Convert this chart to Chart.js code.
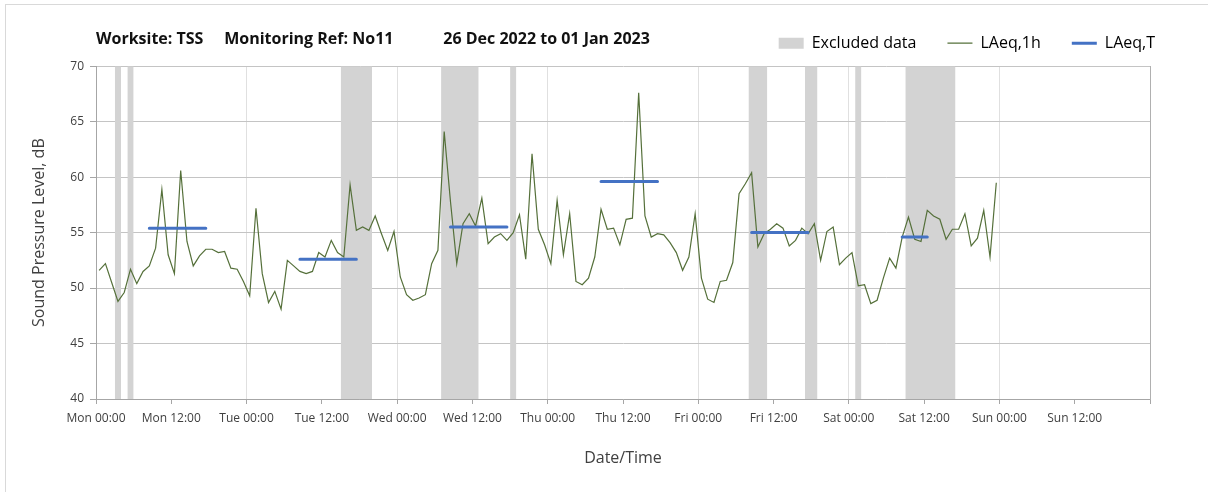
<!DOCTYPE html>
<html>
<head>
<meta charset="utf-8">
<script src="https://cdn.jsdelivr.net/npm/chart.js@4"></script>
<style>
  html, body { margin: 0; padding: 0; background: #fff; overflow: hidden; }
  #frame { position: absolute; left: 5px; top: 4px; width: 1400px; height: 700px; border: 1px solid #d9d9d9; }
  #wrap { position: absolute; left: 0; top: 0; width: 1208px; height: 492px; }
</style>
</head>
<body>
<div id="frame"></div>
<div id="wrap"><canvas id="noiseChart" width="1208" height="492"></canvas></div>
<script>
// x ticks every 12 h from Mon 00:00
const tickLabels = ['Mon 00:00', 'Mon 12:00', 'Tue 00:00', 'Tue 12:00', 'Wed 00:00', 'Wed 12:00',
  'Thu 00:00', 'Thu 12:00', 'Fri 00:00', 'Fri 12:00', 'Sat 00:00', 'Sat 12:00', 'Sun 00:00', 'Sun 12:00'];

// hourly LAeq,1h, one value per hour starting Mon 00:00
const laeq1h = [
  51.6, 52.2, 50.5, 48.8, 49.6, 51.7, 50.4, 51.5, 52.0, 53.6, 58.9, 53.0,
  51.3, 60.6, 54.2, 52.0, 52.9, 53.5, 53.5, 53.2, 53.3, 51.8, 51.7, 50.6,
  49.3, 57.2, 51.3, 48.7, 49.7, 48.1, 52.5, 52.0, 51.5, 51.3, 51.5, 53.2,
  52.8, 54.3, 53.2, 52.8, 59.3, 55.2, 55.5, 55.2, 56.5, 54.9, 53.4, 55.1,
  51.0, 49.4, 48.9, 49.1, 49.4, 52.2, 53.4, 64.1, 57.8, 52.2, 55.8, 56.7,
  55.6, 58.1, 54.0, 54.6, 54.9, 54.3, 55.0, 56.6, 52.6, 62.1, 55.3, 53.9,
  52.2, 57.9, 53.0, 56.7, 50.6, 50.3, 50.9, 52.8, 57.1, 55.3, 55.4, 53.9,
  56.2, 56.3, 67.6, 56.5, 54.6, 54.9, 54.8, 54.1, 53.2, 51.6, 52.8, 56.7,
  50.9, 49.0, 48.7, 50.6, 50.7, 52.3, 58.5, 59.4, 60.4, 53.7, 54.9, 55.3,
  55.8, 55.4, 53.8, 54.3, 55.4, 54.9, 55.8, 52.5, 55.1, 55.5, 52.1, 52.7,
  53.2, 50.2, 50.3, 48.6, 48.9, 50.9, 52.7, 51.8, 54.6, 56.4, 54.4, 54.2,
  57.0, 56.5, 56.2, 54.4, 55.3, 55.3, 56.7, 53.8, 54.5, 57.0, 52.8, 59.5
];

// LAeq,T periods (hours from Mon 00:00)
const periodStart = [8, 32, 56, 80, 104, 128];
const periodEnd = [18, 42, 66, 90, 114, 133];
const laeqT = [55.4, 52.6, 55.5, 59.6, 55.0, 54.6];

// excluded data periods (hours from Mon 00:00)
const excludedStart = [3, 5, 39, 55, 66, 104, 113, 121, 129];
const excludedEnd = [4, 6, 44, 61, 67, 107, 115, 122, 137];

const green = '#55703a';
const blue = '#4472c4';
const bandGrey = '#d3d3d3';
const textGrey = '#404040';
const font = 'Open Sans';

const hourlyPoints = laeq1h.map((v, i) => ({ x: i + 0.5, y: v }));

const periodPoints = [];
periodStart.forEach((s, i) => {
  periodPoints.push({ x: s + 0.5, y: laeqT[i] });
  periodPoints.push({ x: periodEnd[i] - 0.5, y: laeqT[i] });
  periodPoints.push({ x: periodEnd[i], y: null });
});

const bandSets = excludedStart.map((s, i) => ({
  label: 'Excluded data',
  data: [{ x: s, y: 70 }, { x: excludedEnd[i], y: 70 }],
  borderColor: 'rgba(0,0,0,0)',
  borderWidth: 0,
  backgroundColor: bandGrey,
  pointRadius: 0,
  fill: 'start'
}));

new Chart(document.getElementById('noiseChart'), {
  type: 'line',
  data: {
    datasets: [
      {
        label: 'LAeq,T',
        data: periodPoints,
        borderColor: blue,
        borderWidth: 3,
        borderCapStyle: 'round',
        pointRadius: 0,
        spanGaps: false,
        fill: false
      },
      {
        label: 'LAeq,1h',
        data: hourlyPoints,
        borderColor: green,
        borderWidth: 1.2,
        pointRadius: 0,
        tension: 0,
        fill: false
      },
      ...bandSets
    ]
  },
  options: {
    responsive: false,
    animation: false,
    layout: { padding: { left: 0, right: 22, top: 4, bottom: 0 } },
    plugins: {
      tooltip: { enabled: false },
      title: {
        display: true,
        fullSize: false,
        align: 'start',
        text: 'Worksite: TSS     Monitoring Ref: No11            26 Dec 2022 to 01 Jan 2023',
        color: '#111',
        font: { family: font, size: 16, weight: 'bold' },
        padding: { top: 26, bottom: -45 }
      },
      legend: {
        position: 'top',
        align: 'end',
        maxHeight: 62,
        labels: {
          usePointStyle: true,
          pointStyleWidth: 25,
          boxHeight: 11,
          padding: 31,
          color: textGrey,
          font: { family: font, size: 16 },
          generateLabels: () => [
            { text: 'Excluded data', fillStyle: bandGrey, strokeStyle: bandGrey, lineWidth: 0, pointStyle: 'rect' },
            { text: 'LAeq,1h', fillStyle: 'rgba(0,0,0,0)', strokeStyle: green, lineWidth: 1.2, pointStyle: 'line' },
            { text: 'LAeq,T', fillStyle: 'rgba(0,0,0,0)', strokeStyle: blue, lineWidth: 3, pointStyle: 'line' }
          ]
        }
      }
    },
    scales: {
      x: {
        type: 'linear',
        min: 0,
        max: 168,
        ticks: {
          stepSize: 12,
          autoSkip: false,
          maxRotation: 0,
          padding: 7,
          color: textGrey,
          font: { family: font, size: 12 },
          callback: v => tickLabels[v / 12] ?? ''
        },
        grid: {
          color: c => (c.tick && c.tick.value % 24 === 0) ? '#e0e0e0' : 'rgba(0,0,0,0)',
          tickColor: '#a6a6a6',
          tickLength: 5
        },
        border: { color: '#a6a6a6' },
        title: {
          display: true,
          text: 'Date/Time',
          color: textGrey,
          font: { family: font, size: 16 },
          padding: { bottom: 24 }
        },
        afterFit: s => { s.height = 93; }
      },
      // empty spacer between legend row and plot
      x2: {
        type: 'linear',
        position: 'top',
        min: 0,
        max: 168,
        ticks: { display: false },
        grid: { display: false },
        border: { display: false },
        afterFit: s => { s.height = 5; }
      },
      y: {
        min: 40,
        max: 70,
        ticks: {
          stepSize: 5,
          padding: 6,
          color: textGrey,
          font: { family: font, size: 12 }
        },
        grid: { color: '#c4c4c4', tickColor: '#a6a6a6', tickLength: 6 },
        border: { color: '#a6a6a6' },
        title: {
          display: true,
          text: 'Sound Pressure Level, dB',
          color: textGrey,
          font: { family: font, size: 16 },
          padding: { top: 30 }
        },
        afterFit: s => { s.width = 96; }
      },
      y2: {
        position: 'right',
        min: 40,
        max: 70,
        ticks: { display: false },
        grid: { display: false },
        border: { color: '#b0b0b0' },
        afterFit: s => { s.width = 36; }
      }
    }
  }
});
</script>
</body>
</html>
